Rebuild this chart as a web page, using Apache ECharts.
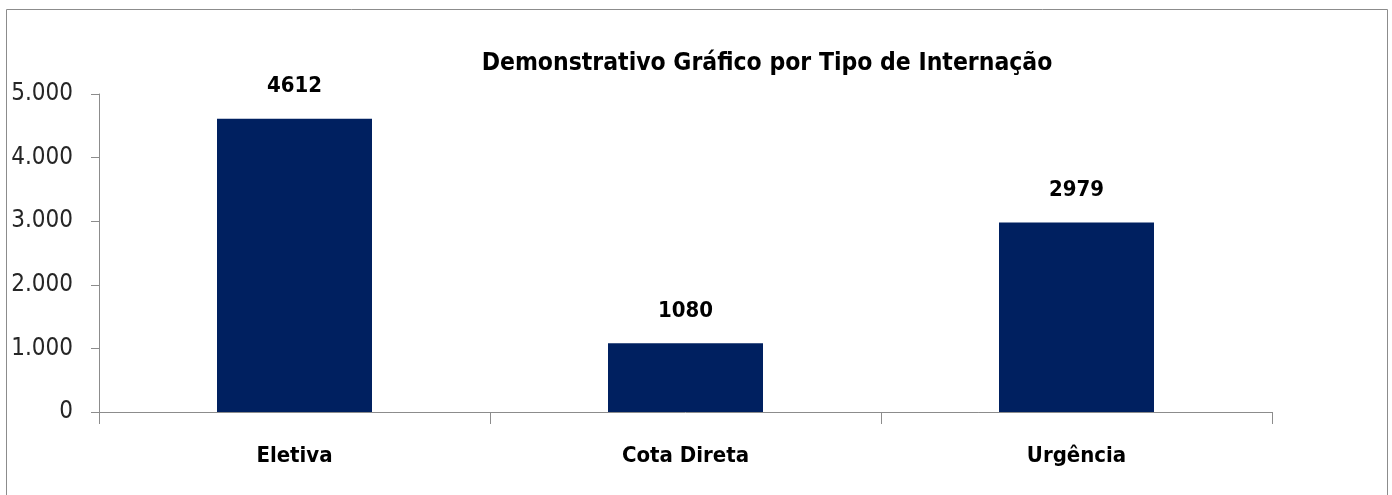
<!DOCTYPE html>
<html lang="pt">
<head>
  <meta charset="utf-8">
  <title>Demonstrativo Gráfico por Tipo de Internação</title>
  <script type="text/javascript" src="https://cdn.jsdelivr.net/npm/echarts@6/dist/echarts.min.js"></script>
  <style type="text/css">
    * { margin: 0; padding: 0; }
    html, body, #chart { width: 100%; height: 100%; overflow: hidden; background: #fff; }
  </style>
</head>
<body>
  <div id="chart"></div>
  <script type="text/javascript">
    var categories = ['Eletiva', 'Cota Direta', 'Urgência'];
    var values = [4612, 1080, 2979];
    var yMax = 5000;
    var yStep = 1000;

    var font = "'Liberation Sans Narrow', 'DejaVu Sans Condensed', 'Noto Sans', sans-serif";

    var chart = echarts.init(document.getElementById('chart'));
    chart.setOption({
      animation: false,
      title: {
        text: 'Demonstrativo Gráfico por Tipo de Internação',
        left: 762,
        top: 46,
        textAlign: 'center',
        textStyle: { fontFamily: font, fontSize: 24.5, fontWeight: 'bold', color: '#000' }
      },
      graphic: [{
        type: 'rect',
        shape: { x: 6.5, y: 9.5, width: 1381, height: 520 },
        style: { fill: 'none', stroke: '#8c8c8c', lineWidth: 1 },
        silent: true
      }],
      grid: { left: 99, right: 120, top: 94, bottom: 83, containLabel: false },
      xAxis: {
        type: 'category',
        data: categories,
        axisLine: { lineStyle: { color: '#8c8c8c', width: 1 } },
        axisTick: { show: true, length: 12, lineStyle: { color: '#8c8c8c' } },
        axisLabel: { margin: 33, fontFamily: font, fontSize: 22, fontWeight: 'bold', color: '#000' }
      },
      yAxis: {
        type: 'value',
        min: 0,
        max: yMax,
        interval: yStep,
        splitLine: { show: false },
        axisLine: { show: true, lineStyle: { color: '#8c8c8c', width: 1 } },
        axisTick: { show: true, length: 8, lineStyle: { color: '#8c8c8c' } },
        axisLabel: {
          margin: 26,
          padding: [6, 0, 0, 0],
          fontFamily: font,
          fontSize: 24,
          color: '#262626',
          formatter: function (v) { return v.toString().replace(/\B(?=(\d{3})+(?!\d))/g, '.'); }
        }
      },
      series: [{
        type: 'bar',
        data: values,
        barWidth: 155,
        itemStyle: { color: '#002060' },
        label: {
          show: true,
          position: 'top',
          distance: 21,
          fontFamily: font,
          fontSize: 22,
          fontWeight: 'bold',
          color: '#000'
        }
      }]
    });
  </script>
</body>
</html>
